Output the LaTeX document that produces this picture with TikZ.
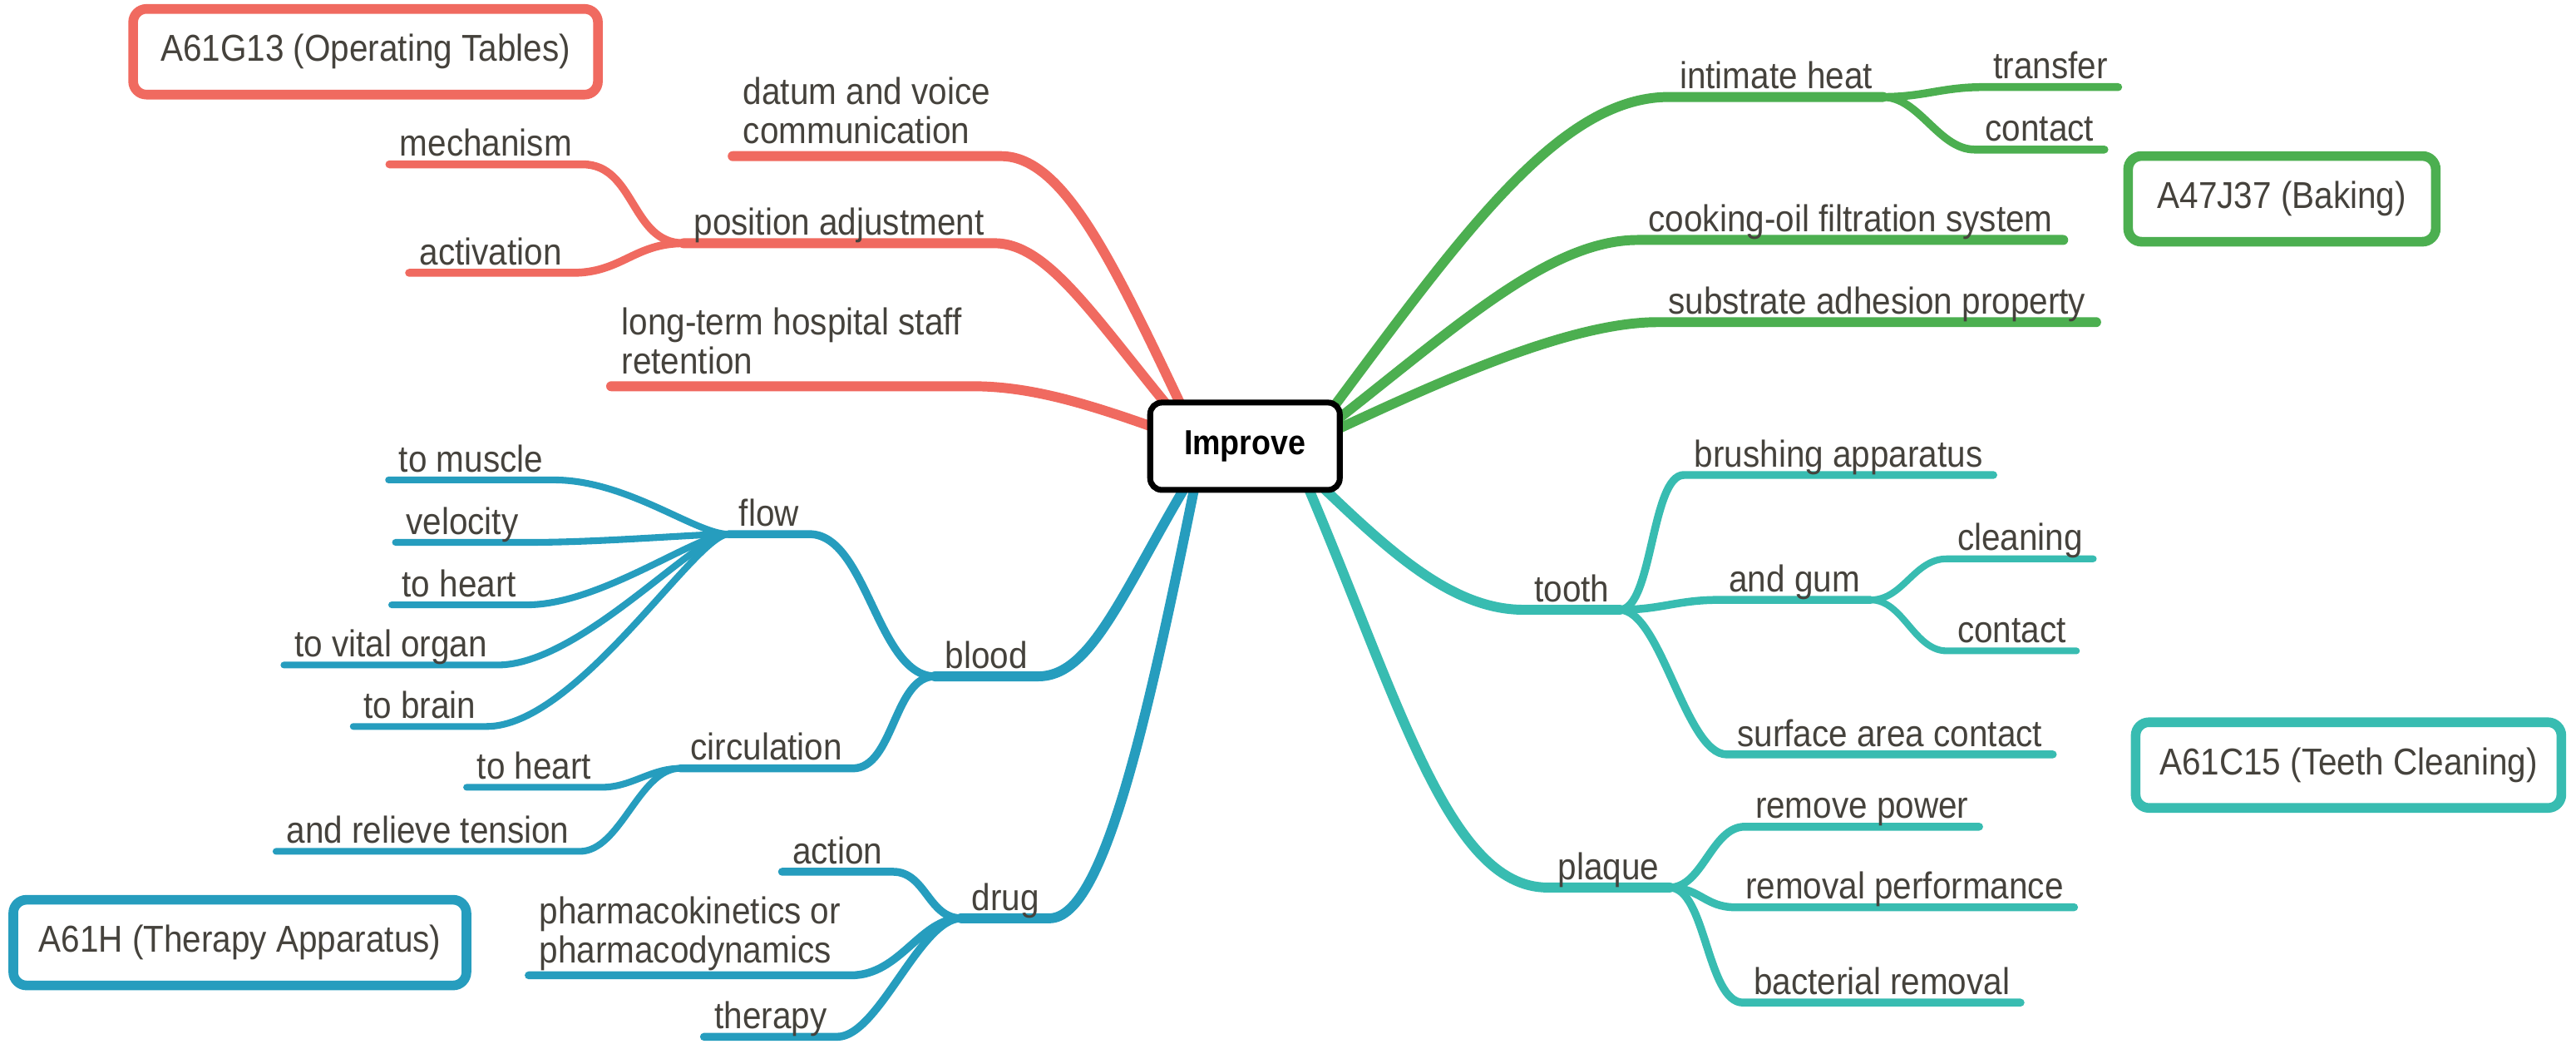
\documentclass[tikz,border=0pt]{standalone}
\usepackage{fontspec}
\setmainfont{Liberation Sans}[FakeStretch=0.9]
\usetikzlibrary{backgrounds}
\definecolor{redb}{RGB}{240,106,96}
\definecolor{greenb}{RGB}{76,175,80}
\definecolor{tealb}{RGB}{56,188,177}
\definecolor{blueb}{RGB}{38,157,190}
\definecolor{inkgray}{RGB}{69,66,60}
\newcommand{\topicfont}{\fontsize{12.8}{13.4}\selectfont}
\newcommand{\rootfont}{\fontsize{11.9}{13.4}\selectfont\bfseries}
\tikzset{
  lbl/.style={font=\topicfont, text=inkgray, inner xsep=1.2mm, inner ysep=0pt, anchor=south west},
  topic/.style={lbl, text depth=2.6pt},
  twoline/.style={lbl, align=left},
  rootbox/.style={draw=black, line width=2pt, rounded corners=1.4mm, fill=white,
    minimum width=22.8mm, minimum height=10.5mm, font=\rootfont},
  catbox/.style={draw=#1, line width=3.3pt, rounded corners=1.6mm, fill=white,
    minimum height=10.3mm, inner sep=0pt, font=\topicfont, text=inkgray},
  thickline/.style={line width=3.4pt, line cap=round, line join=round},
  midline/.style={line width=2.7pt, line cap=round, line join=round},
  thinline/.style={line width=2.3pt, line cap=round, line join=round}
}
\begin{document}
\begin{tikzpicture}[x=0.19758mm,y=-0.19758mm]
  \useasboundingbox (0,0) rectangle (1568,634.7);

  \node[rootbox] (improve) at (757.8,271.5) {Improve};
  \coordinate (redroot) at (730,270);
  \coordinate (greenroot) at (795,270);
  \coordinate (tealroot) at (790,282);
  \coordinate (blueroot) at (730,282);

  \node[catbox=redb, minimum width=55.9mm] (optables) at (222.5,31.5) {A61G13 (Operating Tables)};
  \node[catbox=greenb, minimum width=37mm] (baking) at (1389,121) {A47J37 (Baking)};
  \node[catbox=tealb, minimum width=51.2mm] (teeth) at (1429.5,465.5) {A61C15 (Teeth Cleaning)};
  \node[catbox=blueb, minimum width=54.5mm] (therapyapp) at (146,573.5) {A61H (Therapy Apparatus)};

  \node[twoline] (datum) at (446,95) {datum and voice\\communication\strut};
  \node[topic] (posadj) at (416,148) {position adjustment};
  \node[topic] (mech) at (237,100) {mechanism};
  \node[topic] (activ) at (249,166) {activation};
  \node[twoline] (staff) at (372,235) {long-term hospital staff\\retention\strut};

  \node[topic] (heat) at (1016,59) {intimate heat};
  \node[topic] (transfer) at (1207,53) {transfer};
  \node[topic] (heatcontact) at (1202,91) {contact};
  \node[topic] (oil) at (997,146) {cooking-oil filtration system};
  \node[topic] (adhesion) at (1009,196) {substrate adhesion property};

  \node[topic] (tooth) at (927.5,371) {tooth};
  \node[topic] (brush) at (1025,289) {brushing apparatus};
  \node[topic] (gum) at (1046,365) {and gum};
  \node[topic] (cleaning) at (1185,340) {cleaning};
  \node[topic] (gumcontact) at (1185,396) {contact};
  \node[topic] (surface) at (1051,459) {surface area contact};
  \node[topic] (plaque) at (942,540) {plaque};
  \node[topic] (power) at (1062,503) {remove power};
  \node[topic] (perf) at (1056,552) {removal performance};
  \node[topic] (bact) at (1061,610) {bacterial removal};

  \node[topic] (blood) at (569,411.5) {blood};
  \node[topic] (flow) at (443.4,325) {flow};
  \node[topic] (muscle) at (236.5,292) {to muscle};
  \node[topic] (velocity) at (240.7,330) {velocity};
  \node[topic] (heart) at (238.4,368) {to heart};
  \node[topic] (organ) at (172.8,404.6) {to vital organ};
  \node[topic] (brain) at (215,442) {to brain};
  \node[topic] (circ) at (414,467.5) {circulation};
  \node[topic] (circheart) at (284,479) {to heart};
  \node[topic] (tension) at (168,518) {and relieve tension};
  \node[topic] (drug) at (585,558.7) {drug};
  \node[topic] (action) at (476,530.4) {action};
  \node[twoline] (pharma) at (321.8,593.4) {pharmacokinetics or\\pharmacodynamics\strut};
  \node[topic] (therapy) at (428.5,630.8) {therapy};

  \begin{scope}[on background layer]
    \begin{scope}[draw=redb]
      \draw[thickline] (redroot) .. controls +(-50,-105) and +(40,0) .. (datum.south east) -- (datum.south west);
      \draw[thickline] (redroot) .. controls +(-60,-70) and +(35,0) .. (posadj.south east) -- (posadj.south west);
      \draw[thickline] (redroot) .. controls +(-60,-22) and +(40,0) .. (staff.south east) -- (staff.south west);
      \draw[midline] (posadj.south west) .. controls +(-32,0) and +(32,0) .. (mech.south east) -- (mech.south west);
      \draw[midline] (posadj.south west) .. controls +(-30,0) and +(30,0) .. (activ.south east) -- (activ.south west);
    \end{scope}
    \begin{scope}[draw=greenb]
      \draw[thickline] (greenroot) .. controls +(90,-120) and +(-70,0) .. (heat.south west) -- (heat.south east);
      \draw[thickline] (greenroot) .. controls +(85,-65) and +(-57,0) .. (oil.south west) -- (oil.south east);
      \draw[thickline] (greenroot) .. controls +(65,-30) and +(-59,0) .. (adhesion.south west) -- (adhesion.south east);
      \draw[midline] (heat.south east) .. controls +(25,0) and +(-25,0) .. (transfer.south west) -- (transfer.south east);
      \draw[midline] (heat.south east) .. controls +(22,0) and +(-22,0) .. (heatcontact.south west) -- (heatcontact.south east);
    \end{scope}
    \begin{scope}[draw=tealb]
      \draw[thickline] (tealroot) .. controls +(50,48) and +(-47,0) .. (tooth.south west) -- (tooth.south east);
      \draw[thickline] (tealroot) .. controls +(60,138) and +(-62,0) .. (plaque.south west) -- (plaque.south east);
      \draw[midline] (tooth.south east) .. controls +(20,0) and +(-20,0) .. (brush.south west) -- (brush.south east);
      \draw[midline] (tooth.south east) .. controls +(25,0) and +(-25,0) .. (gum.south west) -- (gum.south east);
      \draw[midline] (tooth.south east) .. controls +(25,0) and +(-25,0) .. (surface.south west) -- (surface.south east);
      \draw[thinline] (gum.south east) .. controls +(20,0) and +(-20,0) .. (cleaning.south west) -- (cleaning.south east);
      \draw[thinline] (gum.south east) .. controls +(20,0) and +(-20,0) .. (gumcontact.south west) -- (gumcontact.south east);
      \draw[midline] (plaque.south east) .. controls +(20,0) and +(-20,0) .. (power.south west) -- (power.south east);
      \draw[midline] (plaque.south east) .. controls +(18,0) and +(-18,0) .. (perf.south west) -- (perf.south east);
      \draw[midline] (plaque.south east) .. controls +(22,0) and +(-22,0) .. (bact.south west) -- (bact.south east);
    \end{scope}
    \begin{scope}[draw=blueb]
      \draw[thickline] (blueroot) .. controls +(-45,73) and +(34,0) .. (blood.south east) -- (blood.south west);
      \draw[thickline] (blueroot) .. controls +(-30,148) and +(34,0) .. (drug.south east) -- (drug.south west);
      \draw[midline] (blood.south west) .. controls +(-35,0) and +(35,0) .. (flow.south east) -- (flow.south west);
      \draw[midline] (blood.south west) .. controls +(-25,0) and +(25,0) .. (circ.south east) -- (circ.south west);
      \draw[thinline] (flow.south west) .. controls +(-20,0) and +(45,0) .. (muscle.south east) -- (muscle.south west);
      \draw[thinline] (flow.south west) .. controls +(-20,0) and +(45,0) .. (velocity.south east) -- (velocity.south west);
      \draw[thinline] (flow.south west) .. controls +(-20,0) and +(45,0) .. (heart.south east) -- (heart.south west);
      \draw[thinline] (flow.south west) .. controls +(-20,0) and +(50,0) .. (organ.south east) -- (organ.south west);
      \draw[thinline] (flow.south west) .. controls +(-20,0) and +(55,0) .. (brain.south east) -- (brain.south west);
      \draw[thinline] (circ.south west) .. controls +(-18,0) and +(18,0) .. (circheart.south east) -- (circheart.south west);
      \draw[thinline] (circ.south west) .. controls +(-25,0) and +(25,0) .. (tension.south east) -- (tension.south west);
      \draw[midline] (drug.south west) .. controls +(-20,0) and +(20,0) .. (action.south east) -- (action.south west);
      \draw[midline] (drug.south west) .. controls +(-25,0) and +(30,0) .. (pharma.south east) -- (pharma.south west);
      \draw[midline] (drug.south west) .. controls +(-25,0) and +(25,0) .. (therapy.south east) -- (therapy.south west);
    \end{scope}
  \end{scope}
\end{tikzpicture}
\end{document}
